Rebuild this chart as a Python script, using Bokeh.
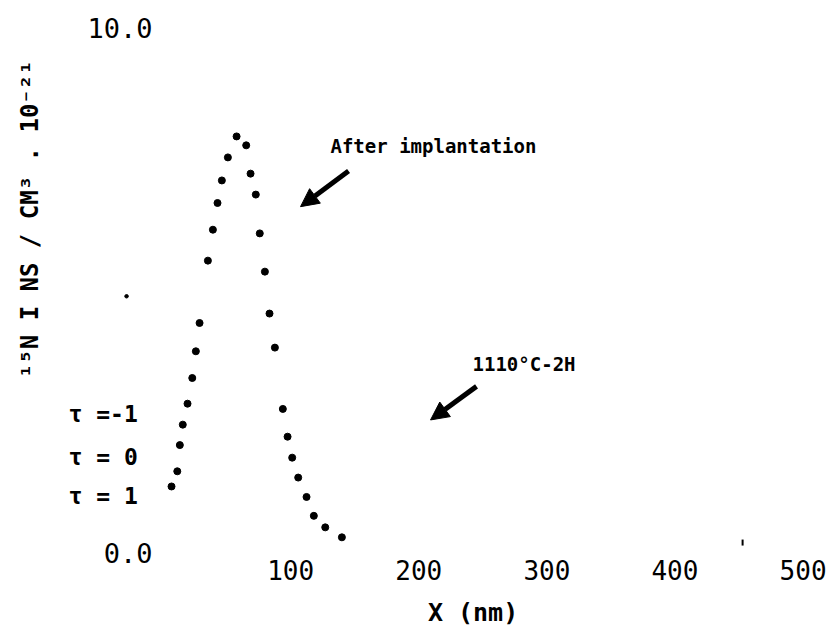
from bokeh.plotting import figure
from bokeh.models import FixedTicker, PrintfTickFormatter, Arrow, NormalHead
from bokeh.core.properties import value
from bokeh.embed import file_html
from bokeh.resources import INLINE

# Depth profile (nm) and 15N concentration (x 10^21 / cm^3)
x_nm = [7.0, 11.5, 13.5, 15.8, 19.5, 23.2, 26.0, 28.9, 35.4, 39.3, 42.9, 46.3, 51.0, 57.8,
        65.3, 68.7, 72.8, 75.9, 79.9, 83.5, 87.7, 93.9, 97.6, 101.2, 105.9, 112.4, 118.1, 127.0, 140.0]
conc = [1.26, 1.55, 2.05, 2.44, 2.84, 3.33, 3.84, 4.38, 5.57, 6.16, 6.67, 7.10, 7.54, 7.94,
        7.77, 7.23, 6.83, 6.09, 5.36, 4.56, 3.91, 2.74, 2.21, 1.81, 1.43, 1.06, 0.70, 0.48, 0.29]

# stray marks visible on the original figure
stray_dot_x = [-28.1]
stray_dot_y = [4.89]
stray_tick_x = [452.8]
stray_tick_y = [0.19]

x_ticks = [100, 200, 300, 400, 500]
y_ticks = [0, 10]

tau_labels = ["τ =-1", "τ = 0", "τ = 1"]
tau_levels = [2.65, 1.83, 1.07]

y_title = "¹⁵N I NS / CM³ . 10⁻²¹"
x_title = "X (nm)"
label_after = "After implantation"
label_anneal = "1110°C-2H"

MONO = "DejaVu Sans Mono"

p = figure(width=831, height=627, x_range=(-126.5, 522.2), y_range=(-1.431, 10.534),
           output_backend="svg", toolbar_location=None, min_border=0)
p.grid.visible = False
p.outline_line_color = None
p.background_fill_color = "white"
p.border_fill_color = "white"

for ax in (p.xaxis, p.yaxis):
    ax.axis_line_color = None
    ax.major_tick_line_color = None
    ax.minor_tick_line_color = None
    ax.major_label_text_font = MONO
    ax.major_label_text_color = "black"
    ax.major_label_standoff = 3

p.xaxis.major_label_text_font_size = "26px"
p.yaxis.major_label_text_font_size = "27px"
p.xaxis.ticker = FixedTicker(ticks=x_ticks)
p.xaxis.fixed_location = 0.03
p.yaxis.ticker = FixedTicker(ticks=y_ticks)
p.yaxis.formatter = PrintfTickFormatter(format="%.1f")
p.yaxis.fixed_location = -0.8

# data points
p.scatter(x_nm, conc, size=7, color="black")
p.scatter(stray_dot_x, stray_dot_y, size=3.5, color="black")
p.scatter(stray_tick_x, stray_tick_y, marker="dash", angle=1.5708, size=6, line_width=2, color="black")

bold = dict(text_font=value(MONO), text_font_style="bold", text_color="black")

# tau labels
p.text(x=[-73.4] * len(tau_labels), y=tau_levels, text=tau_labels, text_font_size="23px",
       text_align="left", text_baseline="middle", **bold)

# annotations
p.text(x=[131.1], y=[7.75], text=[label_after], text_font_size="19px",
       text_align="left", text_baseline="alphabetic", **bold)
p.text(x=[242.0], y=[3.59], text=[label_anneal], text_font_size="19px",
       text_align="left", text_baseline="alphabetic", **bold)

# axis titles
p.text(x=[-103.8], y=[6.36], text=[y_title], angle=1.5708, text_font_size="24px",
       text_align="center", text_baseline="middle", **bold)
p.text(x=[242.4], y=[-1.145], text=[x_title], text_font_size="25px",
       text_align="center", text_baseline="middle", **bold)

# arrows
for xs, ys, xe, ye in [(145.2, 7.28, 107.7, 6.60), (245.1, 3.17, 209.2, 2.53)]:
    p.add_layout(Arrow(end=NormalHead(size=18, fill_color="black", line_color="black"),
                       x_start=xs, y_start=ys, x_end=xe, y_end=ye,
                       line_width=5, line_color="black"))

open("out.html", "w").write(file_html(p, INLINE))
